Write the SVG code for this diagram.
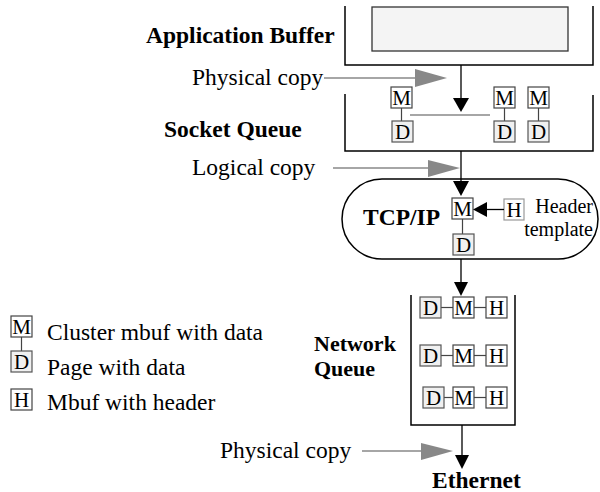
<svg xmlns="http://www.w3.org/2000/svg" width="600" height="492" viewBox="0 0 600 492">
<style>
text{font-family:"Liberation Serif","Times New Roman",serif;fill:#000}
.lbl{font-size:23.5px}
.b{font-size:23.5px;font-weight:bold}
.nq{font-size:22px;font-weight:bold}
.sm{font-size:20px}
.bx{font-size:21px;text-anchor:middle}
.frame{fill:none;stroke:#000;stroke-width:1.5}
.m{fill:#fff;stroke:#444;stroke-width:1.2}
.d{fill:#f0f0f0;stroke:#555;stroke-width:1.2}
.h{fill:#fff;stroke:#444;stroke-width:1.2}
.ht{fill:#fff;stroke:#999;stroke-width:1.2}
.ln{stroke:#444;stroke-width:1.2;fill:none}
.gl{stroke:#888;stroke-width:1.3;fill:none}
.gh{fill:#888}
.bk{stroke:#000;stroke-width:1.3;fill:none}
.bh{fill:#000}
</style>

<g id="app-buffer">
<path class="frame" d="M345,6 V65 H593 V6"/>
<rect x="372" y="7" width="196" height="44" fill="#f4f4f4" stroke="#333" stroke-width="1.3"/>
<text class="b" x="146" y="43">Application Buffer</text>
</g>

<g id="socket-queue">
<path class="frame" d="M345,94 V151 H593 V95"/>
<line class="gl" x1="410" y1="115" x2="490" y2="115"/>
<line class="ln" x1="401.5" y1="108" x2="401.5" y2="121"/>
<rect class="m" x="391" y="87" width="21" height="21"/><text class="bx" x="401.5" y="105">M</text>
<rect class="d" x="392" y="121" width="21" height="21"/><text class="bx" x="402.5" y="139">D</text>
<line class="ln" x1="504.5" y1="108" x2="504.5" y2="121"/>
<rect class="m" x="494" y="87" width="21" height="21"/><text class="bx" x="504.5" y="105">M</text>
<rect class="d" x="494" y="121" width="21" height="21"/><text class="bx" x="504.5" y="139">D</text>
<line class="ln" x1="538.5" y1="108" x2="538.5" y2="121"/>
<rect class="m" x="528" y="87" width="21" height="21"/><text class="bx" x="538.5" y="105">M</text>
<rect class="d" x="528" y="121" width="21" height="21"/><text class="bx" x="538.5" y="139">D</text>
<text class="b" x="164" y="137">Socket Queue</text>
</g>

<g id="tcpip">
<rect x="342" y="179" width="256" height="80" rx="40" ry="40" fill="#fff" stroke="#000" stroke-width="1.5"/>
<text class="b" x="363" y="225">TCP/IP</text>
<line class="ln" x1="462.5" y1="219" x2="462.5" y2="234"/>
<rect class="m" x="452" y="198" width="21" height="21"/><text class="bx" x="462.5" y="216">M</text>
<rect class="d" x="453" y="234" width="21" height="21"/><text class="bx" x="463.5" y="252">D</text>
<rect class="ht" x="504" y="199" width="20" height="21"/><text class="bx" x="514" y="217">H</text>
<text class="sm" x="593" y="213" text-anchor="end">Header</text>
<text class="sm" x="593" y="236" text-anchor="end">template</text>
</g>

<g id="network-queue">
<path class="frame" d="M411,295 V425 H515 V295"/>
<text class="nq" x="314" y="351">Network</text>
<text class="nq" x="314" y="376">Queue</text>
<line class="ln" x1="441" y1="307.5" x2="453" y2="307.5"/>
<line class="ln" x1="474" y1="307.5" x2="486" y2="307.5"/>
<rect class="d" x="420" y="297" width="21" height="21"/><text class="bx" x="430.5" y="315">D</text>
<rect class="m" x="453" y="297" width="21" height="21"/><text class="bx" x="463.5" y="315">M</text>
<rect class="h" x="486" y="297" width="21" height="21"/><text class="bx" x="496.5" y="315">H</text>
<line class="ln" x1="441" y1="355.5" x2="453" y2="355.5"/>
<line class="ln" x1="474" y1="355.5" x2="486" y2="355.5"/>
<rect class="d" x="420" y="345" width="21" height="21"/><text class="bx" x="430.5" y="363">D</text>
<rect class="m" x="453" y="345" width="21" height="21"/><text class="bx" x="463.5" y="363">M</text>
<rect class="h" x="486" y="345" width="21" height="21"/><text class="bx" x="496.5" y="363">H</text>
<line class="ln" x1="444" y1="397.5" x2="453" y2="397.5"/>
<line class="ln" x1="474" y1="397.5" x2="486" y2="397.5"/>
<rect class="d" x="423" y="387" width="21" height="21"/><text class="bx" x="433.5" y="405">D</text>
<rect class="m" x="453" y="387" width="21" height="21"/><text class="bx" x="463.5" y="405">M</text>
<rect class="h" x="486" y="387" width="21" height="21"/><text class="bx" x="496.5" y="405">H</text>
</g>

<g id="ethernet">
<text class="b" x="432" y="488">Ethernet</text>
</g>

<g id="legend">
<line class="ln" x1="21.5" y1="337" x2="21.5" y2="351"/>
<rect class="m" x="11" y="316" width="21" height="21"/><text class="bx" x="21.5" y="334">M</text>
<rect class="d" x="11" y="351" width="21" height="21"/><text class="bx" x="21.5" y="369">D</text>
<rect class="h" x="11" y="389" width="21" height="21"/><text class="bx" x="21.5" y="407">H</text>
<text class="lbl" x="47" y="340">Cluster mbuf with data</text>
<text class="lbl" x="47" y="375">Page with data</text>
<text class="lbl" x="47" y="410">Mbuf with header</text>
</g>

<g id="connectors">
<line class="bk" x1="461" y1="65" x2="461" y2="98"/>
<polygon class="bh" points="453,98 469,98 461,112"/>
<line class="bk" x1="461" y1="151" x2="461" y2="181"/>
<polygon class="bh" points="453,181 469,181 461,196"/>
<line class="bk" x1="461" y1="259" x2="461" y2="282"/>
<polygon class="bh" points="454,282 468,282 461,296"/>
<line class="bk" x1="462" y1="425" x2="462" y2="455"/>
<polygon class="bh" points="455,455 469,455 462,469"/>
<line class="bk" x1="487" y1="209.5" x2="504" y2="209.5"/>
<polygon class="bh" points="487,202 487,217 473,209.5"/>
<line class="gl" x1="324" y1="78" x2="416" y2="78"/>
<polygon class="gh" points="415,69 447,78 415,87"/>
<text class="lbl" x="192" y="85">Physical copy</text>
<line class="gl" x1="333" y1="168" x2="430" y2="168"/>
<polygon class="gh" points="428,160 460,168 428,177"/>
<text class="lbl" x="192" y="175">Logical copy</text>
<line class="gl" x1="362" y1="451" x2="422" y2="451"/>
<polygon class="gh" points="421,443 453,451 421,460"/>
<text class="lbl" x="220" y="458">Physical copy</text>
</g>
</svg>
